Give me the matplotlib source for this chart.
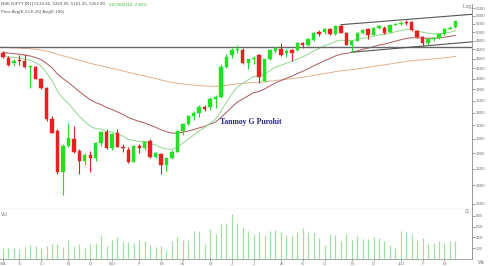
import numpy as np
import matplotlib.pyplot as plt

# weekly NSE NIFTY candles, Aug 2008 .. Mar 2010
opens = [4530, 4420, 4320, 4375, 4360, 4225, 4230, 4000, 3830, 3300,
         3120, 2560, 2900, 3000, 2830, 2700, 2780, 2740, 2935, 3100,
         2875, 3080, 2890, 2850, 2690, 2900, 2867, 2965, 2755, 2785,
         2650, 2740, 2820, 3110, 3226, 3345, 3400, 3490, 3490, 3630,
         3660, 4230, 4470, 4590, 4597, 4320, 4385, 4470, 3960, 4385,
         4560, 4610, 4525, 4580, 4580, 4745, 4710, 4819, 5000, 4990,
         5070, 4950, 5150, 4980, 4710, 4800, 4980, 5070, 4935, 5110,
         5110, 4990, 5180, 5200, 5250, 5250, 5030, 4880, 4745, 4840,
         4860, 4950, 5085, 5134]
highs = [4560, 4450, 4400, 4480, 4500, 4260, 4250, 4020, 3850, 3350,
         3150, 2920, 3240, 3190, 2860, 2800, 2830, 2960, 3120, 3140,
         3080, 3150, 2920, 2880, 2910, 2930, 2970, 2990, 2820, 2800,
         2750, 2840, 3130, 3240, 3360, 3420, 3520, 3520, 3660, 3700,
         4300, 4510, 4640, 4690, 4640, 4400, 4450, 4500, 4400, 4590,
         4660, 4745, 4600, 4620, 4760, 4760, 4850, 5000, 5040, 5090,
         5110, 5160, 5180, 5000, 4820, 5000, 5070, 5090, 5130, 5180,
         5140, 5180, 5210, 5280, 5310, 5270, 5060, 4900, 4850, 4880,
         4960, 5100, 5140, 5270]
lows = [4410, 4260, 4260, 4280, 4200, 3820, 3990, 3810, 3270, 3080,
        2540, 2290, 2880, 2800, 2530, 2650, 2560, 2700, 2900, 2860,
        2850, 2880, 2810, 2670, 2680, 2800, 2850, 2740, 2740, 2540,
        2570, 2720, 2810, 3060, 3200, 3280, 3330, 3420, 3440, 3480,
        3640, 4200, 4420, 4520, 4300, 4180, 4300, 3920, 3930, 4370,
        4520, 4460, 4440, 4350, 4560, 4630, 4680, 4800, 4900, 4950,
        4920, 4930, 4980, 4700, 4540, 4790, 4960, 4830, 4920, 5080,
        4950, 4970, 5170, 5180, 5160, 5020, 4860, 4675, 4710, 4790,
        4840, 4930, 5070, 5101]
closes = [4430, 4280, 4360, 4350, 4225, 4250, 4000, 3830, 3300, 3090,
          2560, 2900, 3005, 2820, 2700, 2780, 2740, 2935, 3100, 2875,
          3065, 2890, 2867, 2690, 2900, 2875, 2955, 2755, 2800, 2650,
          2740, 2820, 3120, 3226, 3345, 3400, 3490, 3463, 3630, 3660,
          4230, 4440, 4597, 4604, 4320, 4385, 4420, 4030, 4385, 4580,
          4630, 4490, 4560, 4525, 4745, 4710, 4840, 4980, 4950, 5070,
          4950, 5150, 4980, 4710, 4800, 4980, 5050, 4935, 5110, 5140,
          4980, 5170, 5197, 5230, 5230, 5050, 4880, 4745, 4840, 4860,
          4950, 5085, 5110, 5263]
volumes = [215, 215, 215, 196, 228, 265, 240, 215, 252, 278,
           278, 228, 357, 252, 278, 215, 289, 302, 437, 252,
           357, 413, 326, 315, 302, 352, 339, 265, 222, 252,
           167, 339, 413, 357, 357, 524, 511, 289, 548, 463,
           648, 672, 833, 659, 598, 512, 469, 493, 450, 524,
           530, 500, 450, 432, 500, 567, 506, 493, 395, 253,
           469, 444, 339, 469, 358, 419, 370, 370, 407, 389,
           327, 265, 203, 512, 506, 469, 358, 389, 284, 296,
           339, 296, 333, 333]

month_idx = [0, 3, 7, 12, 16, 20, 25, 29, 33, 38, 42, 46, 51, 55, 59, 64, 68, 73, 77, 81]
month_lbl = ['08A', 'S', 'O', 'N', 'D', '09J', 'F', 'M', 'A', 'M', 'J',
             'J', 'A', 'S', 'O', 'N', 'D', '10J', 'F', 'M']

price_ticks = [2200, 2400, 2600, 2800, 3000, 3200, 3400, 3600, 3800, 4000,
               4200, 4400, 4600, 4800, 5000, 5200, 5400, 5600]
vol_ticks = [200, 400, 600, 800]

# EMA starting values (from where the lines enter on the left)
ema_start = {13: 4470, 26: 4540, 100: 4650}
ema_colors = {13: '#90d890', 26: '#a85a5a', 100: '#e0b090'}

support = 4650                        # horizontal line
upper_line = [(62, 5180), (74, 5310)]  # channel top, through two highs
lower_line = [(64, 4540), (77, 4675)]  # channel bottom, through two lows

GREEN = '#22e022'
RED = '#e82020'
GREY = '#777777'

W, H = 490, 266


def rect(x0, y0, x1, y1):
    return [x0 / W, 1 - y1 / H, (x1 - x0) / W, (y1 - y0) / H]


def ema(vals, n, start):
    a = 2.0 / (n + 1)
    out = [start]
    for v in vals[1:]:
        out.append(out[-1] + a * (v - out[-1]))
    return np.array(out)


fig = plt.figure(figsize=(W / 100, H / 100), dpi=100)
plt.rcParams['font.family'] = ['Liberation Sans', 'DejaVu Sans']

ax = fig.add_axes(rect(0, 4, 472, 208.5))
axv = fig.add_axes(rect(0, 208.5, 472, 259.3))

xlim = (-0.55, 86.06)
idx = np.arange(len(closes))
o = np.array(opens, float)
c = np.array(closes, float)
hi = np.array(highs, float)
lo = np.array(lows, float)
cols = [GREEN if cc >= oo else RED for oo, cc in zip(o, c)]

# ---- price panel ----
ax.set_yscale('log')
ax.vlines(idx, lo, hi, colors=cols, lw=0.8, zorder=3)
bot = np.minimum(o, c)
top = np.maximum(o, c)
top = np.maximum(top, bot * 1.003)
ax.bar(idx, top - bot, bottom=bot, width=0.62, color=cols, edgecolor=cols,
       lw=0.3, zorder=4)

for n in (100, 26, 13):
    ax.plot(idx, ema(c, n, ema_start[n]), color=ema_colors[n], lw=0.7, zorder=2)

ax.axhline(support, color='#666666', lw=1.0, zorder=2)
for (i0, p0), (i1, p1) in (upper_line, lower_line):
    k = (np.log(p1) - np.log(p0)) / (i1 - i0)
    xs = np.array([i0, xlim[1]])
    ax.plot(xs, np.exp(np.log(p0) + k * (xs - i0)), color='#555555', lw=0.8, zorder=2)

ax.text(39.8, 3255, 'Tanmoy G Purohit', family='Liberation Serif', weight='bold',
        fontsize=5.6, color='#2a2a90', va='center', ha='left')

ax.set_xlim(*xlim)
ax.set_ylim(2149, 5719)
ax.yaxis.tick_right()
ax.set_yticks(price_ticks)
ax.set_yticklabels([str(t) for t in price_ticks])
ax.yaxis.set_minor_locator(plt.NullLocator())
ax.tick_params(axis='y', labelsize=3.2, colors=GREY, length=2, width=0.5, pad=1)
ax.set_xticks([])
for s in ('left', 'top'):
    ax.spines[s].set_visible(False)
ax.spines['right'].set_color('#888888')
ax.spines['bottom'].set_color('#999999')
ax.spines['right'].set_linewidth(0.6)
ax.spines['bottom'].set_linewidth(0.8)
ax.text(1.0, 1.0, 'Log ', transform=ax.transAxes, ha='right', va='top',
        fontsize=3.4, color=GREY)

# ---- volume panel ----
axv.vlines(idx, 0, volumes, colors='#a0e0a0', lw=0.9)
axv.set_xlim(*xlim)
axv.set_ylim(0, 931)
axv.yaxis.tick_right()
axv.set_yticks(vol_ticks)
axv.set_yticklabels([str(t) for t in vol_ticks])
axv.tick_params(axis='y', labelsize=3.2, colors=GREY, length=2, width=0.5, pad=1)
axv.set_xticks(month_idx)
axv.set_xticklabels(month_lbl)
axv.tick_params(axis='x', labelsize=3.2, colors=GREY, length=1.5, width=0.5, pad=0.8)
for s in ('left', 'top'):
    axv.spines[s].set_visible(False)
axv.spines['right'].set_color('#888888')
axv.spines['bottom'].set_color('#999999')
axv.spines['right'].set_linewidth(0.6)
axv.spines['bottom'].set_linewidth(0.6)
axv.text(0.003, 0.93, 'Vol', transform=axv.transAxes, ha='left', va='top',
         fontsize=3.4, color=GREY)
axv.text(0.995, 0.99, 'Cr', transform=axv.transAxes, ha='right', va='top',
         fontsize=3.4, color=GREY)

# ---- header ----
t1 = fig.text(1 / W, 1 - 4.5 / H, 'NSE NIFTY [N1] 5134.45, 5269.95, 5101.25, 5262.80,',
              fontsize=3.2, color='#555555', va='center')
ax.annotate('  3157802112  2.45%', xy=(1, 0.5), xycoords=t1, va='center',
            fontsize=3.2, color='#33bb33', annotation_clip=False)
fig.text(1 / W, 1 - 11.5 / H, 'Price Avg(E,13,E,26) Avg(E,100)', fontsize=3.2,
         color='#555555', va='center')
fig.text(478 / W, 1 - 263 / H, 'Wk', fontsize=3.4, color=GREY, va='center')

fig.savefig('out.png', dpi=100)
